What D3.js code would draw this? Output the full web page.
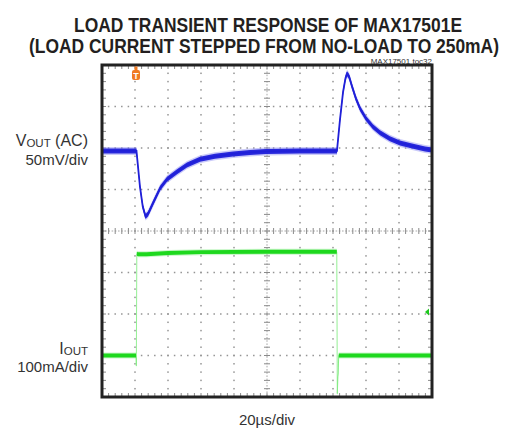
<!DOCTYPE html>
<html>
<head>
<meta charset="utf-8">
<script src="https://cdn.jsdelivr.net/npm/d3@7"></script>
<style>
  body { margin: 0; background: #fff; }
  svg { display: block; }
</style>
</head>
<body>
<script>
// scope settings
var divTime = 20;     // us/div
var divVout = 50;     // mV/div
var divIout = 100;    // mA/div
var voutPos = 1.93;   // channel offset, divisions
var ioutPos = -3;
var trigTime = 20.6;  // us
var trigLevel = 105;  // mA

// VOUT (AC) trace, time in us, value in mV
var voutT  = [0, 20.9, 23.0, 24.7, 26.4, 27.9, 30.9, 35.2, 39.4, 45.5, 51.5, 59.4, 68.5, 79.4, 89.7, 99.4, 120,
              142.4, 144.2, 146.1, 147.6, 148.5, 149.7, 151.5, 153.9, 156.4, 160, 164.2, 168.5, 174.5, 180.6, 187.9, 195.8, 200];
var voutMv = [0, 0, -43, -67, -79, -76, -63, -45, -34, -25, -17, -10, -6.5, -3.6, -1.8, -0.6, 0,
              0, 37, 71, 88, 93, 90, 78, 63, 51, 39, 29, 22, 14.5, 9.6, 6, 2.4, 1.2];

// IOUT trace, time in us, value in mA
var ioutT  = [0, 20.6, 20.8, 21.1, 22, 27, 40, 60, 100, 142.3, 142.6, 143.5, 200];
var ioutMa = [0, 0, -25, 245, 244, 244, 247, 249, 250, 250, -92, 0, 0];

var w = 510;
var h = 431;
// plot box (window.top is reserved, so use own names)
var pL = 102, pR = 432, pT = 65, pB = 397;

var svg = d3.select("body").append("svg")
            .attr("width", w)
            .attr("height", h);

// scales: time and screen divisions
var x = d3.scaleLinear().domain([0, 10 * divTime]).range([pL, pR]);
var yDiv = d3.scaleLinear().domain([-4, 4]).range([pB, pT]);
var yV = d3.scaleLinear()
           .domain([(-4 - voutPos) * divVout, (4 - voutPos) * divVout])
           .range([pB, pT]);
var yI = d3.scaleLinear()
           .domain([(-4 - ioutPos) * divIout, (4 - ioutPos) * divIout])
           .range([pB, pT]);

var grid = svg.append("g");
var majorX = d3.range(1, 10).map(i => i * divTime);
var minorX = d3.range(0, 51).map(i => i * divTime / 5);
var majorY = d3.range(-3, 4);
var minorY = d3.range(0, 41).map(i => -4 + i / 5);

// dotted grid lines (dots on the minor positions)
var dots = [];
majorY.filter(d => d != 0).forEach(function(d) {
  minorX.forEach(t => dots.push([x(t), yDiv(d)]));
});
majorX.filter(t => t != 5 * divTime).forEach(function(t) {
  minorY.forEach(d => dots.push([x(t), yDiv(d)]));
});
grid.selectAll(".dot")
    .data(dots)
    .enter().append("rect")
    .attr("x", d => d[0] - 0.75)
    .attr("y", d => d[1] - 0.75)
    .attr("width", 1.5)
    .attr("height", 1.5)
    .attr("fill", "#949494");

// center cross with minor ticks
grid.append("line")
    .attr("x1", pL).attr("x2", pR)
    .attr("y1", yDiv(0)).attr("y2", yDiv(0))
    .attr("stroke", "#a8a8a8").attr("stroke-dasharray", "1.6,1.6");
grid.append("line")
    .attr("x1", x(5 * divTime)).attr("x2", x(5 * divTime))
    .attr("y1", pT).attr("y2", pB)
    .attr("stroke", "#a8a8a8").attr("stroke-dasharray", "1.6,1.6");
grid.selectAll(".tx")
    .data(minorX)
    .enter().append("line")
    .attr("x1", d => x(d)).attr("x2", d => x(d))
    .attr("y1", yDiv(0) - 3).attr("y2", yDiv(0) + 3)
    .attr("stroke", "#8a8a8a").attr("stroke-width", 1);
grid.selectAll(".ty")
    .data(minorY)
    .enter().append("line")
    .attr("x1", x(5 * divTime) - 3).attr("x2", x(5 * divTime) + 3)
    .attr("y1", d => yDiv(d)).attr("y2", d => yDiv(d))
    .attr("stroke", "#8a8a8a").attr("stroke-width", 1);

// ticks along the border
grid.selectAll(".bx")
    .data(minorX)
    .enter().append("path")
    .attr("d", d => "M" + x(d) + "," + pT + "v4M" + x(d) + "," + pB + "v-4")
    .attr("stroke", "#8a8a8a");
grid.selectAll(".by")
    .data(minorY)
    .enter().append("path")
    .attr("d", d => "M" + pL + "," + yDiv(d) + "h4M" + pR + "," + yDiv(d) + "h-4")
    .attr("stroke", "#8a8a8a");

// traces: a vertical noise band plus a thin core line
function trace(ts, vs, yScale, c) {
  var data = ts.map((t, i) => ({t: t, v: vs[i]}));
  var g = svg.append("g");
  var band = function(p) {
    return d3.area()
             .x(d => x(d.t))
             .y0(d => yScale(d.v) - p)
             .y1(d => yScale(d.v) + p);
  };
  g.append("path").datum(data)
   .attr("d", band(c.fuzz))
   .attr("fill", c.fringe).attr("opacity", 0.45);
  if (c.edgeFirst) {
    g.append("path").datum(data)
     .attr("d", d3.line().x(d => x(d.t)).y(d => yScale(d.v)))
     .attr("fill", "none").attr("stroke", c.edge).attr("stroke-width", c.edgeW);
  }
  g.append("path").datum(data)
   .attr("d", band(c.band))
   .attr("fill", c.main);
  if (!c.edgeFirst) {
    g.append("path").datum(data)
     .attr("d", d3.line().x(d => x(d.t)).y(d => yScale(d.v)))
     .attr("fill", "none").attr("stroke", c.edge).attr("stroke-width", c.edgeW);
  }
}

trace(voutT, voutMv, yV, {main: "#2828dc", fringe: "#8c8cf2", edge: "#2020d8",
                          band: 2.5, fuzz: 4, edgeW: 1.8, edgeFirst: false});
trace(ioutT, ioutMa, yI, {main: "#1ed81e", fringe: "#8cee8c", edge: "#98f098",
                          band: 1.9, fuzz: 3, edgeW: 1, edgeFirst: true});

// border
svg.append("rect")
   .attr("x", pL).attr("y", pT)
   .attr("width", pR - pL).attr("height", pB - pT)
   .attr("fill", "none").attr("stroke", "#222").attr("stroke-width", 3);

// trigger markers
var tx = x(trigTime);
svg.append("rect")
   .attr("x", tx - 1.5).attr("y", pT + 1.5)
   .attr("width", 3).attr("height", 4)
   .attr("fill", "#f07a22");
svg.append("rect")
   .attr("x", tx - 4).attr("y", pT + 5)
   .attr("width", 8).attr("height", 10).attr("rx", 2)
   .attr("fill", "#f07a22");
svg.append("text")
   .attr("x", tx).attr("y", pT + 13.5)
   .attr("text-anchor", "middle")
   .attr("fill", "#fff")
   .style("font", "bold 9px 'Liberation Sans', Arial, sans-serif")
   .text("T");
var ty = yI(trigLevel);
svg.append("path")
   .attr("d", "M" + (pR - 7) + "," + ty + "l4,-3.5v7z")
   .attr("fill", "#1ec81e");

// titles
var titleFont = "'Liberation Sans Narrow', 'Arial Narrow', 'Liberation Sans', Arial, sans-serif";
svg.append("text")
   .attr("x", 268).attr("y", 32)
   .attr("text-anchor", "middle")
   .attr("textLength", 388).attr("lengthAdjust", "spacingAndGlyphs")
   .attr("fill", "#231f20")
   .style("font-family", titleFont).style("font-weight", "bold").style("font-size", "20px")
   .text("LOAD TRANSIENT RESPONSE OF MAX17501E");
svg.append("text")
   .attr("x", 264).attr("y", 53)
   .attr("text-anchor", "middle")
   .attr("textLength", 470).attr("lengthAdjust", "spacingAndGlyphs")
   .attr("fill", "#231f20")
   .style("font-family", titleFont).style("font-weight", "bold").style("font-size", "20px")
   .text("(LOAD CURRENT STEPPED FROM NO-LOAD TO 250mA)");
svg.append("text")
   .attr("x", 432).attr("y", 64)
   .attr("text-anchor", "end")
   .attr("fill", "#333")
   .style("font", "8px 'Liberation Sans', Arial, sans-serif")
   .text("MAX17501 toc32");

// channel labels
var labelFont = "'Liberation Sans', Arial, sans-serif";
function label(main, sub, rest, yy) {
  var t = svg.append("text")
             .attr("x", 88).attr("y", yy)
             .attr("text-anchor", "end")
             .attr("fill", "#333")
             .style("font-family", labelFont).style("font-size", "16px");
  t.append("tspan").text(main);
  t.append("tspan").style("font-size", "11.5px").attr("dy", 1).text(sub);
  if (rest) t.append("tspan").attr("dy", -1).text(rest);
}
label("V", "OUT", " (AC)", 146);
label("I", "OUT", null, 354);

svg.append("text")
   .attr("x", 88).attr("y", 165)
   .attr("text-anchor", "end").attr("fill", "#333")
   .style("font-family", labelFont).style("font-size", "15px")
   .text("50mV/div");
svg.append("text")
   .attr("x", 88).attr("y", 372)
   .attr("text-anchor", "end").attr("fill", "#333")
   .style("font-family", labelFont).style("font-size", "15px")
   .text("100mA/div");
svg.append("text")
   .attr("x", 267).attr("y", 425)
   .attr("text-anchor", "middle").attr("fill", "#333")
   .style("font-family", labelFont).style("font-size", "15px")
   .text("20\u00b5s/div");
</script>
</body>
</html>
